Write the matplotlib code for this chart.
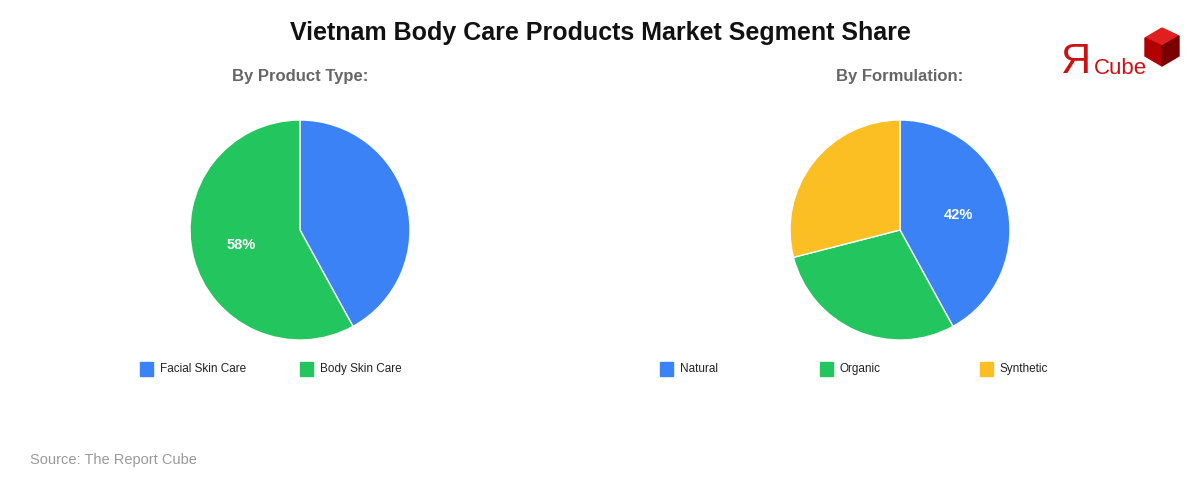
import matplotlib
matplotlib.use("Agg")
import matplotlib.pyplot as plt
from matplotlib.patches import Polygon, Rectangle
import numpy as np

plt.rcParams['font.family'] = ['Liberation Sans', 'DejaVu Sans']

title = "Vietnam Body Care Products Market Segment Share"
t1 = "By Product Type:"
l1 = ["Facial Skin Care", "Body Skin Care"]
v1 = [42, 58]
c1 = ["#3b82f6", "#22c55e"]
t2 = "By Formulation:"
l2 = ["Natural", "Organic", "Synthetic"]
v2 = [42, 29, 29]
c2 = ["#3b82f6", "#22c55e", "#fbbf24"]

fig = plt.figure(figsize=(12, 4.8), dpi=100)
W, H = 1200, 480
def fx(x): return x / W
def fy(y): return 1 - y / H

fig.text(0.5, fy(33), title, ha='center', va='center', fontsize=18, fontweight='bold', color='#111111')

def pie(cx, t, labels, vals, cols, labelidx, legx):
    r = 110
    ax = fig.add_axes([fx(cx - r), fy(230 + r), 2 * r / W, 2 * r / H])
    ax.pie(vals, colors=cols, startangle=90, counterclock=False,
           wedgeprops=dict(edgecolor='white', linewidth=1))
    ax.set_xlim(-1, 1); ax.set_ylim(-1, 1)
    ax.set_aspect('equal')
    fig.text(fx(cx), fy(77), t, ha='center', va='center', fontsize=12, fontweight='bold', color='#666666')
    s = sum(vals[:labelidx])
    mid = 90 - (s + vals[labelidx] / 2) / sum(vals) * 360
    ax.text(0.55 * np.cos(np.radians(mid)), 0.55 * np.sin(np.radians(mid)), f"{vals[labelidx]}%",
            ha='center', va='center', color='white', fontsize=10.5, fontweight='bold')
    for i, (lab, col) in enumerate(zip(labels, cols)):
        x = legx[i]
        fig.patches.append(Rectangle((fx(x), fy(376)), 13 / W, 14 / H, transform=fig.transFigure, color=col))
        fig.text(fx(x + 20), fy(369), lab, ha='left', va='center', fontsize=8.5, color='#222222')

pie(300, t1, l1, v1, c1, 1, [140, 300])
pie(900, t2, l2, v2, c2, 0, [660, 820, 980])

fig.text(fx(30), fy(460), "Source: The Report Cube", ha='left', va='center', fontsize=10.5, color='#999999')

# logo
fig.text(fx(1060), fy(62), "Я", ha='left', va='center', fontsize=30, color='#cc1111')
fig.text(fx(1094), fy(68), "Cube", ha='left', va='center', fontsize=16, color='#cc1111')
def P(pts, c):
    fig.patches.append(Polygon([(fx(a), fy(b)) for a, b in pts], closed=True, transform=fig.transFigure, color=c))
P([(1145, 38), (1162, 28), (1179, 36), (1162, 46)], '#e02020')
P([(1145, 38), (1162, 46), (1162, 66), (1145, 56)], '#b00000')
P([(1162, 46), (1179, 36), (1179, 56), (1162, 66)], '#7a0000')

fig.savefig("out.png", dpi=100, facecolor='white')
